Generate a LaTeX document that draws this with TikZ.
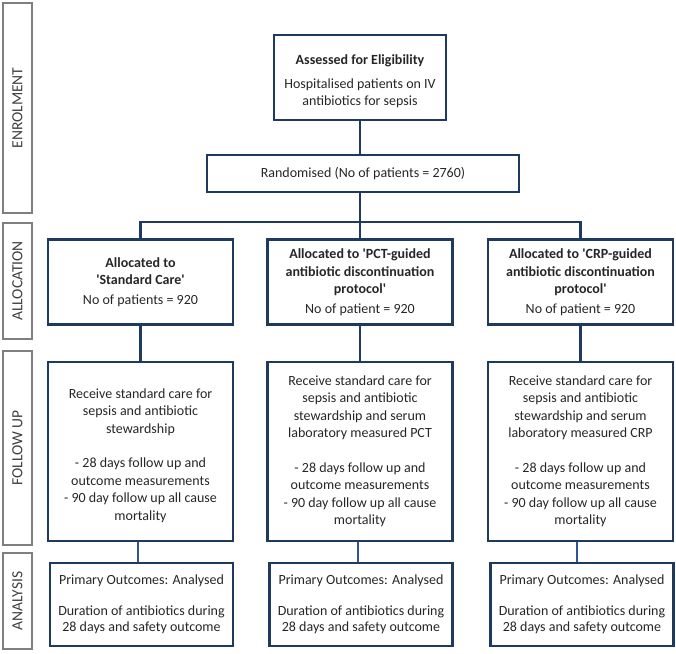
\documentclass[tikz,border=0pt]{standalone}
\usepackage{fontspec}
\setmainfont{Carlito}
\definecolor{navy}{HTML}{1F3A5F}
\definecolor{lineblue}{HTML}{2F5597}
\definecolor{sidegrey}{HTML}{7F7F7F}
\definecolor{txt}{HTML}{262626}
\definecolor{sidetxt}{HTML}{404040}
\newcommand{\sq}{\textquotesingle}
\tikzset{
  navybox/.style={draw=navy, line width=2.6pt, inner sep=0pt, align=center,
    text=txt, font=\fontsize{14}{17.5}\selectfont},
  anbox/.style={navybox, font=\fontsize{14}{16}\selectfont},
  sidebox/.style={draw=sidegrey, line width=1.1pt, inner sep=0pt, rotate=90,
    minimum height=29pt, text=sidetxt, font=\fontsize{15.5}{18}\selectfont},
  thickline/.style={draw=navy, line width=2.6pt},
  thinline/.style={draw=lineblue, line width=1.3pt}
}
\begin{document}
\begin{tikzpicture}[x=1pt,y=-1pt]
\useasboundingbox (0,0) rectangle (676,653);
% side labels
\node[sidebox, minimum width=210pt] (s1) at (17.5,108) {ENROLMENT};
\node[sidebox, minimum width=116pt] (s2) at (17.5,281) {ALLOCATION};
\node[sidebox, minimum width=194pt] (s3) at (17.5,448) {FOLLOW UP};
\node[sidebox, minimum width=96pt] (s4) at (17.5,601) {ANALYSIS};
% enrolment
\node[navybox, minimum width=172pt, minimum height=85pt] (ass) at (360,77.5)
  {\rule{0pt}{18pt}\textbf{Assessed for Eligibility}\\[6pt]Hospitalised patients on IV\\antibiotics for sepsis};
\node[navybox, minimum width=312pt, minimum height=37pt] (rand) at (363,173.5)
  {Randomised (No of patients = 2760)};
% allocation
\node[navybox, minimum width=185pt, minimum height=85pt] (al1) at (140.5,282)
  {\textbf{Allocated to}\\\textbf{\sq Standard Care\sq}\\[2pt]No of patients = 920};
\node[navybox, minimum width=185pt, minimum height=85pt] (al2) at (360,282)
  {\textbf{Allocated to \sq PCT-guided}\\\textbf{antibiotic discontinuation}\\\textbf{protocol\sq}\\[2pt]No of patient = 920};
\node[navybox, minimum width=185pt, minimum height=85pt] (al3) at (580.5,282)
  {\textbf{Allocated to \sq CRP-guided}\\\textbf{antibiotic discontinuation}\\\textbf{protocol\sq}\\[2pt]No of patient = 920};
% follow up
\node[navybox, minimum width=185pt, minimum height=179pt] (f1) at (140.5,451.5)
  {\mbox{}\\Receive standard care for\\sepsis and antibiotic\\stewardship\\[17pt]- 28 days follow up and\\outcome measurements\\- 90 day follow up all cause\\mortality};
\node[navybox, minimum width=185pt, minimum height=179pt] (f2) at (360,451.5)
  {Receive standard care for\\sepsis and antibiotic\\stewardship and serum\\laboratory measured PCT\\[17pt]- 28 days follow up and\\outcome measurements\\- 90 day follow up all cause\\mortality};
\node[navybox, minimum width=185pt, minimum height=179pt] (f3) at (580.5,451.5)
  {Receive standard care for\\sepsis and antibiotic\\stewardship and serum\\laboratory measured CRP\\[17pt]- 28 days follow up and\\outcome measurements\\- 90 day follow up all cause\\mortality};
% analysis
\node[anbox, minimum width=183pt, minimum height=83pt] (a1) at (141.5,604.5)
  {Primary Outcomes: Analysed\\[15pt]Duration of antibiotics during\\28 days and safety outcome};
\node[anbox, minimum width=183pt, minimum height=83pt] (a2) at (361,604.5)
  {Primary Outcomes: Analysed\\[15pt]Duration of antibiotics during\\28 days and safety outcome};
\node[anbox, minimum width=183pt, minimum height=83pt] (a3) at (582,604.5)
  {Primary Outcomes: Analysed\\[15pt]Duration of antibiotics during\\28 days and safety outcome};
% connectors
\coordinate (br) at (360,222);
\draw[thickline] (ass.south) -- (ass.south |- rand.north);
\draw[thickline] (rand.south -| br) -- (br);
\draw[thickline] (al1.north) |- (br) -| (al3.north);
\draw[thickline] (br) -- (al2.north);
\draw[thickline] (al1.south) -- (f1.north);
\draw[thickline] (al2.south) -- (f2.north);
\draw[thickline] (al3.south) -- (f3.north);
\draw[thinline] (f1.south -| 138,0) -- (a1.north -| 138,0);
\draw[thinline] (f2.south -| 358,0) -- (a2.north -| 358,0);
\draw[thinline] (f3.south -| 577,0) -- (a3.north -| 577,0);
\end{tikzpicture}
\end{document}
